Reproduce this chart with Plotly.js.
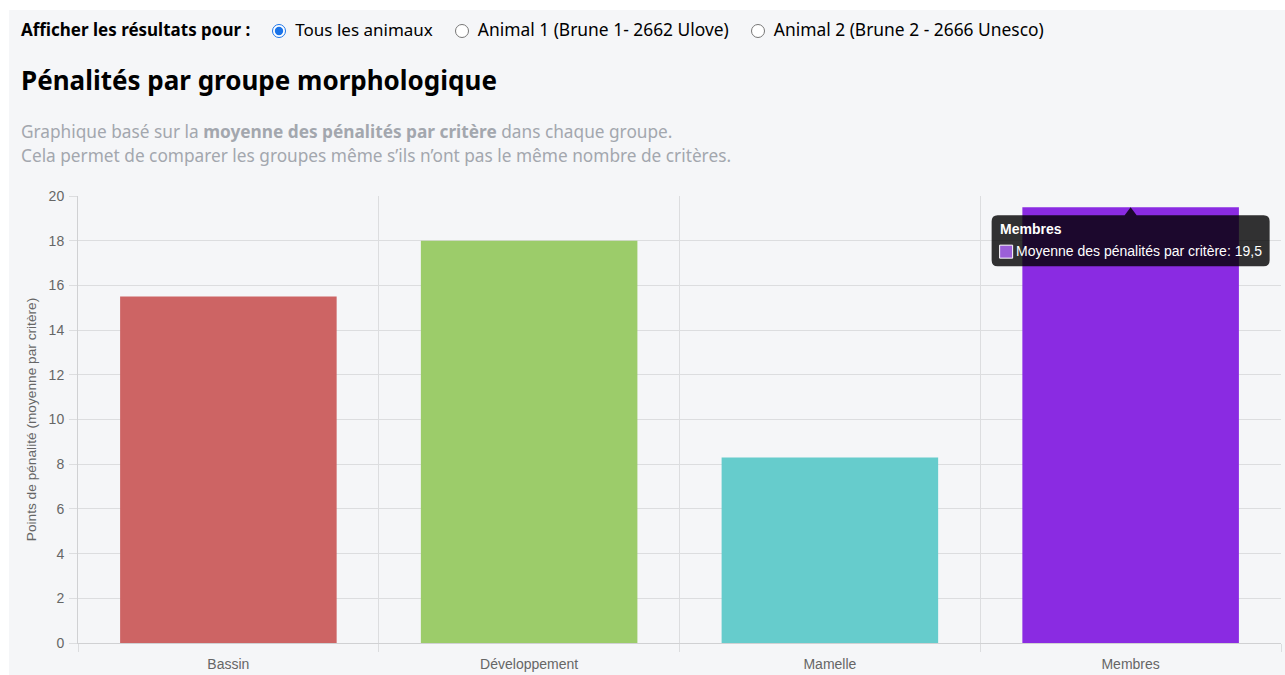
<!DOCTYPE html>
<html lang="fr">
<head>
<meta charset="utf-8">
<script src="https://cdn.plot.ly/plotly-3.0.1.min.js"></script>
<style>
  html, body { margin: 0; padding: 0; background: #ffffff; width: 1285px; height: 675px; overflow: hidden; }
  #panel { position: absolute; left: 9px; top: 10px; width: 1276px; height: 665px; background: #f5f6f8; }
  #chart { position: absolute; left: 0; top: 0; width: 1285px; height: 675px; }
  .hdr { position: absolute; font-family: "Noto Sans", "Open Sans", sans-serif; white-space: nowrap; z-index: 5; }
  #filter { left: 21px; top: 16px; font-size: 17px; color: #000; line-height: 26px; }
  #filter b { font-weight: 700; margin-right: 22px; }
  #filter label { margin-right: 22px; }
  #filter label span.w { font-size: 17.4px; }
  #filter input { accent-color: #1a73e8; width: 14px; height: 14px; margin: 0 9px 0 0; vertical-align: -2px; }
  #title { left: 21px; top: 62px; font-size: 26px; font-weight: 700; color: #000; margin: 0; line-height: 36px; }
  #sub { left: 21px; top: 120px; font-size: 17.25px; color: #a3a7ae; line-height: 24px; }
  #sub b { font-weight: 700; }
</style>
</head>
<body>
<div id="panel"></div>
<div id="chart"></div>
<div class="hdr" id="filter"><b>Afficher les résultats pour :</b><label><input type="radio" name="a" checked>Tous les animaux</label><label><input type="radio" name="a"><span class="w">Animal 1 (Brune 1- 2662 Ulove)</span></label><label><input type="radio" name="a"><span class="w">Animal 2 (Brune 2 - 2666 Unesco)</span></label></div>
<div class="hdr" id="title">Pénalités par groupe morphologique</div>
<div class="hdr" id="sub">Graphique basé sur la <b>moyenne des pénalités par critère</b> dans chaque groupe.<br>Cela permet de comparer les groupes même s’ils n’ont pas le même nombre de critères.</div>
<script>
const categories = ["Bassin", "Développement", "Mamelle", "Membres"];
const values = [15.5, 18, 8.3, 19.5];
const barColors = ["#cd6464", "#9ccc6a", "#66cccc", "#8a2be2"];
const seriesName = "Moyenne des pénalités par critère";
const yTitle = "Points de pénalité (moyenne par critère)";
const tooltipIndex = 3;

const gridColor = "#dcdddf";
const chartFont = "Liberation Sans, Arial, sans-serif";
const tickFont = { family: chartFont, size: 14, color: "#666666" };

const trace = {
  type: "bar",
  x: categories,
  y: values,
  name: seriesName,
  marker: { color: barColors, line: { width: 0 } },
  hoverinfo: "none"
};

const tipCat = categories[tooltipIndex];
const tipVal = values[tooltipIndex];
const tipText = seriesName + ": " + String(tipVal).replace(".", ",");

const layout = {
  width: 1285, height: 675,
  margin: { l: 78, r: 4, t: 196, b: 32, pad: 0 },
  paper_bgcolor: "rgba(0,0,0,0)",
  plot_bgcolor: "rgba(0,0,0,0)",
  showlegend: false,
  bargap: 0.28,
  font: tickFont,
  xaxis: {
    type: "category",
    tickson: "boundaries",
    showgrid: true, gridcolor: gridColor, gridwidth: 1,
    ticks: "outside", ticklen: 8, tickcolor: gridColor, tickwidth: 1,
    ticklabelstandoff: 8,
    showline: true, linecolor: "#d0d1d3", linewidth: 1,
    tickfont: tickFont,
    fixedrange: true
  },
  yaxis: {
    range: [0, 20], dtick: 2, tick0: 0,
    showgrid: true, gridcolor: gridColor, gridwidth: 1,
    zeroline: false,
    ticks: "outside", ticklen: 8, tickcolor: gridColor, tickwidth: 1,
    ticklabelstandoff: 2,
    showline: true, linecolor: "#d0d1d3", linewidth: 1,
    tickfont: tickFont,
    title: { text: yTitle, font: { family: chartFont, size: 13.7, color: "#666666" }, standoff: 8 },
    fixedrange: true
  },
  shapes: [
    {
      type: "path", xref: "x", yref: "y",
      xsizemode: "pixel", ysizemode: "pixel",
      xanchor: tooltipIndex, yanchor: tipVal,
      path: "M -133 -8 L -6 -8 L 0 0 L 6 -8 L 133 -8 Q 139 -8 139 -14 L 139 -53 Q 139 -59 133 -59 L -133 -59 Q -139 -59 -139 -53 L -139 -14 Q -139 -8 -133 -8 Z",
      fillcolor: "rgba(0,0,0,0.8)", line: { width: 0 }, layer: "above"
    },
    {
      type: "rect", xref: "x", yref: "y",
      xsizemode: "pixel", ysizemode: "pixel",
      xanchor: tooltipIndex, yanchor: tipVal,
      x0: -131, x1: -118, y0: -38, y1: -51,
      fillcolor: "#9b5fd8", line: { width: 1, color: "#ffffff" }, layer: "above"
    }
  ],
  annotations: [
    {
      x: tipCat, y: tipVal, xref: "x", yref: "y",
      text: "<b>" + tipCat + "</b>", showarrow: false,
      xanchor: "left", yanchor: "middle", xshift: -133, yshift: -22,
      font: { family: chartFont, size: 14, color: "#ffffff" }
    },
    {
      x: tipCat, y: tipVal, xref: "x", yref: "y",
      text: tipText, showarrow: false,
      xanchor: "left", yanchor: "middle", xshift: -117, yshift: -44,
      font: { family: chartFont, size: 14, color: "#ffffff" }
    }
  ]
};

Plotly.newPlot("chart", [trace], layout, { displayModeBar: false, staticPlot: true });
</script>
</body>
</html>
